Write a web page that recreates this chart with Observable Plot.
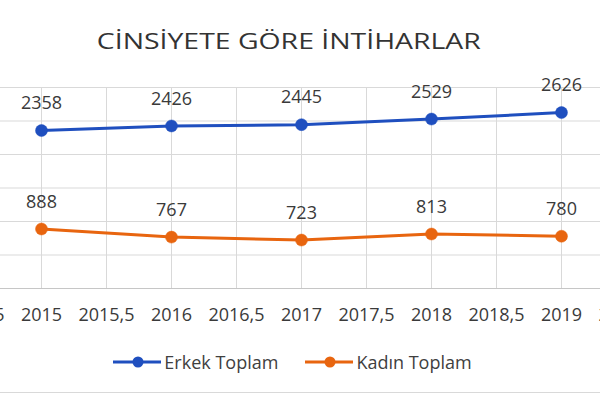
<!DOCTYPE html>
<html>
<head>
<meta charset="utf-8">
<script src="https://cdn.jsdelivr.net/npm/d3@7"></script>
<script src="https://cdn.jsdelivr.net/npm/@observablehq/plot@0.6"></script>
<style>
  html, body { margin: 0; padding: 0; background: #fff; width: 600px; height: 400px; overflow: hidden; }
  body { font-family: "Open Sans", sans-serif; color: #404040; }
  #title { box-sizing: border-box; height: 62px; padding-top: 29px; padding-right: 22px; font-size: 22px; line-height: 22px;
           text-align: center; white-space: nowrap; color: #333; }
  #title span { display: inline-block; transform: scaleX(1.29); transform-origin: 50% 50%; }
  #legend { box-sizing: border-box; height: 61px; border-bottom: 1px solid #d9d9d9; display: flex;
            align-items: center; justify-content: center; padding-right: 15px; font-size: 18px; }
  .item { display: flex; align-items: center; }
  .item + .item { margin-left: 27px; }
  .item span { margin-left: 3px; }
</style>
</head>
<body>
<div id="title"><span>CİNSİYETE GÖRE İNTİHARLAR</span></div>
<div id="chart"></div>
<div id="legend"></div>
<script>
const years = [2015, 2016, 2017, 2018, 2019];
const erkekToplam = [2358, 2426, 2445, 2529, 2626];
const kadinToplam = [888, 767, 723, 813, 780];
const seriesNames = ["Erkek Toplam", "Kadın Toplam"];
const seriesColors = ["#1f4fbf", "#e8650f"];
const xTicks = [2014.5, 2015, 2015.5, 2016, 2016.5, 2017, 2017.5, 2018, 2018.5, 2019, 2019.5];
const yTicks = [0, 500, 1000, 1500, 2000, 2500, 3000];

const rows = [];
years.forEach((yr, i) => {
  rows.push({year: yr, value: erkekToplam[i], series: seriesNames[0]});
  rows.push({year: yr, value: kadinToplam[i], series: seriesNames[1]});
});

const fmt = d => String(d).replace(".", ",");

const chart = Plot.plot({
  width: 600,
  height: 270,
  marginTop: 25,
  marginBottom: 44,
  marginLeft: 0,
  marginRight: 0,
  style: {fontFamily: "Open Sans, sans-serif", fontSize: "18px", color: "#3a3a3a", background: "#fff"},
  x: {domain: [2014.5, 2019.5], range: [-24, 626], ticks: xTicks, tickFormat: fmt, tickSize: 0, tickPadding: 20, label: null},
  y: {domain: [0, 3000], axis: null},
  color: {domain: seriesNames, range: seriesColors},
  marks: [
    Plot.ruleY(yTicks.slice(1), {stroke: "#d9d9d9", strokeWidth: 1}),
    Plot.ruleX(xTicks, {stroke: "#d9d9d9", strokeWidth: 1}),
    Plot.ruleY([0], {stroke: "#c6c6c6", strokeWidth: 1.2}),
    Plot.line(rows, {x: "year", y: "value", z: "series", stroke: "series", strokeWidth: 3}),
    Plot.dot(rows, {x: "year", y: "value", fill: "series", r: 6, stroke: "series", strokeWidth: 0.5}),
    Plot.text(rows, {x: "year", y: "value", text: d => String(d.value), dy: -27, fontSize: 18, fill: "#3a3a3a"})
  ]
});
document.getElementById("chart").appendChild(chart);

const legend = document.getElementById("legend");
seriesNames.forEach((name, i) => {
  const item = document.createElement("div");
  item.className = "item";
  item.innerHTML = `<svg width="48" height="14"><line x1="0" x2="48" y1="7" y2="7" stroke="${seriesColors[i]}" stroke-width="3"/><circle cx="25" cy="7" r="5.5" fill="${seriesColors[i]}"/></svg><span>${name}</span>`;
  legend.appendChild(item);
});
</script>
</body>
</html>
